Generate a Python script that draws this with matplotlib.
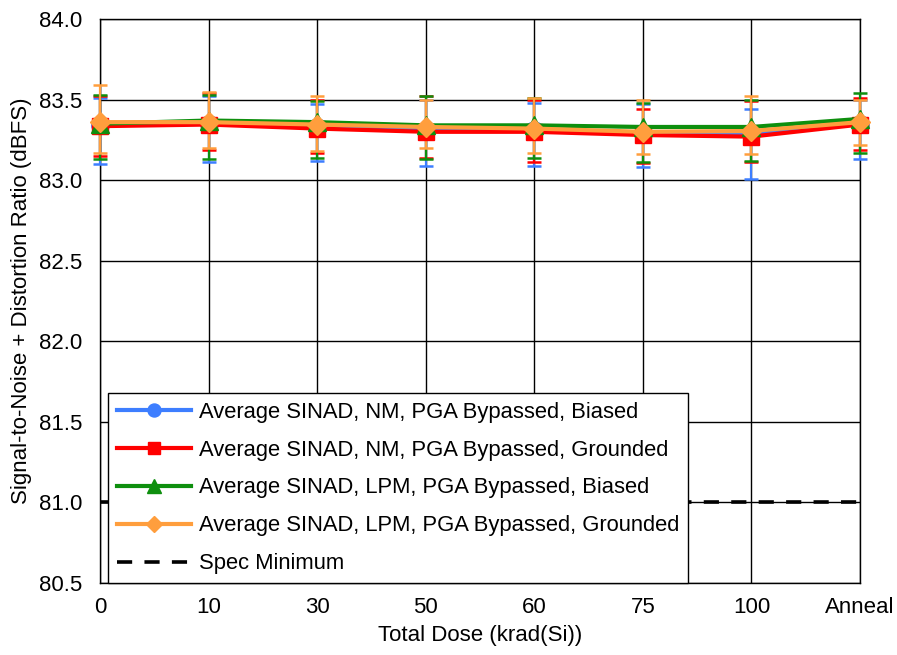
import numpy as np
import matplotlib
matplotlib.use("Agg")
import matplotlib.pyplot as plt

plt.rcParams['font.family'] = ['Liberation Sans', 'DejaVu Sans']
plt.rcParams['font.size'] = 16

## data
doses = ['0', '10', '30', '50', '60', '75', '100', 'Anneal']

nm_bias_mean = [83.34, 83.35, 83.33, 83.31, 83.31, 83.29, 83.29, 83.35]
nm_bias_hi = [83.51, 83.52, 83.47, 83.50, 83.48, 83.47, 83.44, 83.50]
nm_bias_lo = [83.10, 83.11, 83.12, 83.09, 83.09, 83.08, 83.01, 83.13]

nm_gnd_mean = [83.335, 83.345, 83.32, 83.30, 83.30, 83.28, 83.27, 83.345]
nm_gnd_hi = [83.52, 83.54, 83.50, 83.52, 83.50, 83.44, 83.49, 83.51]
nm_gnd_lo = [83.15, 83.19, 83.17, 83.14, 83.11, 83.105, 83.11, 83.19]

lpm_bias_mean = [83.35, 83.37, 83.36, 83.34, 83.34, 83.33, 83.33, 83.38]
lpm_bias_hi = [83.53, 83.53, 83.49, 83.52, 83.51, 83.48, 83.50, 83.54]
lpm_bias_lo = [83.13, 83.13, 83.14, 83.13, 83.14, 83.11, 83.12, 83.17]

lpm_gnd_mean = [83.36, 83.36, 83.345, 83.33, 83.32, 83.30, 83.305, 83.36]
lpm_gnd_hi = [83.59, 83.55, 83.52, 83.50, 83.51, 83.50, 83.52, 83.50]
lpm_gnd_lo = [83.17, 83.20, 83.18, 83.20, 83.17, 83.16, 83.16, 83.22]

spec_min = 81.0

series = [
    ('Average SINAD, NM, PGA Bypassed, Biased', nm_bias_mean, nm_bias_lo, nm_bias_hi, '#3D7EFF', 'o', 12.5),
    ('Average SINAD, NM, PGA Bypassed, Grounded', nm_gnd_mean, nm_gnd_lo, nm_gnd_hi, '#FF0000', 's', 12),
    ('Average SINAD, LPM, PGA Bypassed, Biased', lpm_bias_mean, lpm_bias_lo, lpm_bias_hi, '#0E8F0E', '^', 12.5),
    ('Average SINAD, LPM, PGA Bypassed, Grounded', lpm_gnd_mean, lpm_gnd_lo, lpm_gnd_hi, '#FF9E3D', 'D', 10.5),
]

#%% plot
fig = plt.figure(figsize=(8.97, 6.55), dpi=100)
ax = fig.add_axes([100/897, 1-583/655, 760/897, 564/655])

x = np.arange(len(doses))
handles = []
for label, mean, lo, hi, col, mk, ms in series:
    mean = np.array(mean)
    yerr = [mean - np.array(lo), np.array(hi) - mean]
    eb = ax.errorbar(x, mean, yerr=yerr, color=col, marker=mk, markersize=ms,
                     linewidth=3, elinewidth=1.6, capsize=5, capthick=1.8,
                     clip_on=False, zorder=3)
    for art in eb.lines[1] + eb.lines[2]:
        art.set_clip_on(False)
    h, = ax.plot([], [], color=col, marker=mk, markersize=ms * 0.75, linewidth=3)
    handles.append(h)

spec, = ax.plot(x, [spec_min] * len(x), color='black', linewidth=2.6,
                linestyle=(0, (4.2, 3.4)), zorder=2.5, clip_on=False)
handles.append(spec)

ax.set_xlim(0, len(doses) - 1)
ax.set_ylim(80.5, 84.0)
ax.set_xticks(x)
ax.set_xticklabels(doses)
ax.set_yticks(np.arange(80.5, 84.01, 0.5))
ax.yaxis.set_major_formatter(matplotlib.ticker.FormatStrFormatter('%.1f'))
ax.tick_params(axis='y', length=0, pad=13)
ax.tick_params(axis='x', length=0, pad=10)
ax.grid(True, color='black', linewidth=1.0)
ax.set_axisbelow(True)
for s in ax.spines.values():
    s.set_linewidth(1.0)

ax.set_xlabel('Total Dose (krad(Si))', labelpad=5)
ax.set_ylabel('Signal-to-Noise + Distortion Ratio (dBFS)', labelpad=5)

labels = [s[0] for s in series] + ['Spec Minimum']
leg = ax.legend(handles, labels, loc='lower left', bbox_to_anchor=(0.0105, 0.0),
                borderaxespad=0, fancybox=False, framealpha=1, edgecolor='black',
                handlelength=3.4, handletextpad=0.35, labelspacing=0.77,
                borderpad=0.4, fontsize=15.8)
leg.get_frame().set_linewidth(1.0)
leg.set_zorder(5)

fig.savefig('out.png', dpi=100)
